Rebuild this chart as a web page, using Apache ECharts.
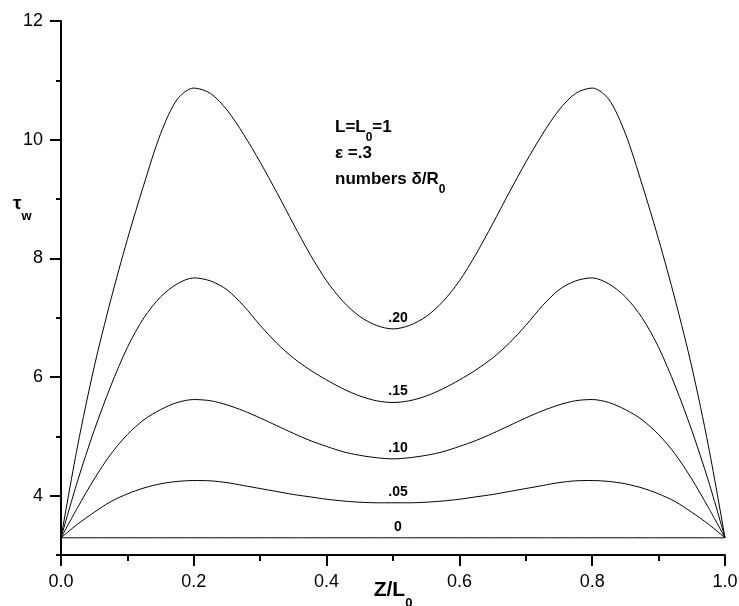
<!DOCTYPE html>
<html>
<head>
<meta charset="utf-8">
<script src="https://cdn.jsdelivr.net/npm/echarts@6/dist/echarts.min.js"></script>
<style>
  html, body { margin: 0; padding: 0; background: #fff; }
  #main { width: 739px; height: 606px; }
</style>
</head>
<body>
<div id="main"></div>
<script>
// Z/L0 positions
var zValues = [0, 0.025, 0.05, 0.075, 0.1, 0.125, 0.15, 0.175, 0.2, 0.225, 0.25,
               0.275, 0.3, 0.325, 0.35, 0.375, 0.4, 0.425, 0.45, 0.475, 0.5,
               0.525, 0.55, 0.575, 0.6, 0.625, 0.65, 0.675, 0.7, 0.725, 0.75,
               0.775, 0.8, 0.825, 0.85, 0.875, 0.9, 0.925, 0.95, 0.975, 1.0];

// tau_w for each delta/R0
var tau20 = [3.29, 4.84, 6.17, 7.3, 8.32, 9.25, 10.1, 10.68, 10.87, 10.78, 10.5,
             10.09, 9.62, 9.11, 8.58, 8.07, 7.62, 7.27, 7.02, 6.87, 6.81,
             6.87, 7.02, 7.27, 7.62, 8.07, 8.58, 9.11, 9.62, 10.09, 10.5,
             10.78, 10.87, 10.68, 10.1, 9.25, 8.32, 7.3, 6.17, 4.84, 3.29];
var tau15 = [3.29, 4.25, 5.1, 5.85, 6.5, 7.0, 7.35, 7.57, 7.67, 7.62, 7.47,
             7.2, 6.87, 6.57, 6.32, 6.12, 5.95, 5.8, 5.68, 5.6, 5.57,
             5.6, 5.68, 5.8, 5.95, 6.12, 6.32, 6.57, 6.87, 7.2, 7.47,
             7.62, 7.67, 7.57, 7.35, 7.0, 6.5, 5.85, 5.1, 4.25, 3.29];
var tau10 = [3.29, 3.8, 4.28, 4.7, 5.03, 5.28, 5.45, 5.57, 5.62, 5.6, 5.53,
             5.43, 5.31, 5.18, 5.05, 4.93, 4.83, 4.74, 4.68, 4.64, 4.62,
             4.64, 4.68, 4.74, 4.83, 4.93, 5.05, 5.18, 5.31, 5.43, 5.53,
             5.6, 5.62, 5.57, 5.45, 5.28, 5.03, 4.7, 4.28, 3.8, 3.29];
var tau05 = [3.29, 3.52, 3.72, 3.9, 4.03, 4.13, 4.2, 4.24, 4.255, 4.25, 4.22,
             4.17, 4.12, 4.07, 4.02, 3.98, 3.94, 3.91, 3.89, 3.88, 3.88,
             3.88, 3.89, 3.91, 3.94, 3.98, 4.02, 4.07, 4.12, 4.17, 4.22,
             4.25, 4.255, 4.24, 4.2, 4.13, 4.03, 3.9, 3.72, 3.52, 3.29];
var tau00 = [3.29, 3.29, 3.29, 3.29, 3.29, 3.29, 3.29, 3.29, 3.29, 3.29, 3.29,
             3.29, 3.29, 3.29, 3.29, 3.29, 3.29, 3.29, 3.29, 3.29, 3.29,
             3.29, 3.29, 3.29, 3.29, 3.29, 3.29, 3.29, 3.29, 3.29, 3.29,
             3.29, 3.29, 3.29, 3.29, 3.29, 3.29, 3.29, 3.29, 3.29, 3.29];

var curveNames = ['.20', '.15', '.10', '.05', '0'];
var yMajorTicks = [4, 6, 8, 10, 12];

var font = 'Liberation Sans';

function pairs(vals) {
    return zValues.map(function (z, i) { return [z, vals[i]]; });
}

var myChart = echarts.init(document.getElementById('main'));

var seriesList = [tau20, tau15, tau10, tau05, tau00].map(function (vals, k) {
    var mid = vals[zValues.indexOf(0.5)];
    return {
        name: curveNames[k],
        type: 'line',
        data: pairs(vals),
        smooth: 0.3,
        showSymbol: false,
        silent: true,
        lineStyle: { color: '#000', width: 1 },
        markPoint: {
            symbol: 'circle',
            symbolSize: 0,
            data: [{ coord: [0.5, mid] }],
            label: {
                show: true,
                position: 'top',
                distance: 4,
                offset: [5, 0],
                formatter: curveNames[k],
                color: '#000',
                fontFamily: font,
                fontWeight: 'bold',
                fontSize: 14
            }
        }
    };
});

var option = {
    animation: false,
    backgroundColor: '#fff',
    grid: { left: 61, right: 14, top: 21, bottom: 51, containLabel: false, outerBoundsMode: 'none' },
    xAxis: {
        type: 'value',
        min: 0,
        max: 1,
        interval: 0.2,
        name: '{b|Z/L}{s|0}',
        nameLocation: 'middle',
        nameGap: 25,
        nameMoveOverlap: false,
        nameTextStyle: {
            rich: {
                b: { fontFamily: font, fontWeight: 'bold', fontSize: 21, color: '#000',
                     lineHeight: 21, verticalAlign: 'top' },
                s: { fontFamily: font, fontWeight: 'bold', fontSize: 13, color: '#000',
                     lineHeight: 8, verticalAlign: 'top', padding: [17, 0, 0, 0] }
            }
        },
        axisLine: { lineStyle: { color: '#000', width: 2 } },
        axisTick: { length: 11, lineStyle: { color: '#000', width: 2 } },
        minorTick: { show: true, splitNumber: 2, length: 6, lineStyle: { color: '#000', width: 2 } },
        splitLine: { show: false },
        axisLabel: {
            margin: 18,
            color: '#000',
            fontFamily: font,
            fontSize: 18,
            formatter: function (v) { return v.toFixed(1); }
        }
    },
    yAxis: [{
        type: 'value',
        position: 'left',
        min: 3,
        max: 12,
        interval: 1,
        axisLine: { show: true, lineStyle: { color: '#000', width: 2 } },
        axisTick: { show: true, length: 5, lineStyle: { color: '#000', width: 2 } },
        splitLine: { show: false },
        axisLabel: {
            margin: 18,
            color: '#000',
            fontFamily: font,
            fontSize: 18,
            formatter: function (v) { return yMajorTicks.indexOf(v) >= 0 ? String(v) : ''; }
        }
    }, {
        type: 'value',
        position: 'left',
        min: 3,
        max: 12,
        interval: 1,
        axisLine: { show: false },
        axisTick: { show: true, length: 11, customValues: yMajorTicks,
                    lineStyle: { color: '#000', width: 2 } },
        axisLabel: { show: false },
        splitLine: { show: false }
    }],
    graphic: [{
        type: 'text',
        left: 13,
        top: 194,
        style: {
            text: '{t|τ}{w|w}',
            rich: {
                t: { fontFamily: font, fontWeight: 'bold', fontSize: 19, fill: '#000',
                     lineHeight: 19, verticalAlign: 'top' },
                w: { fontFamily: font, fontWeight: 'bold', fontSize: 13, fill: '#000',
                     lineHeight: 8, verticalAlign: 'top', padding: [16, 0, 0, 0] }
            }
        }
    }, {
        type: 'text',
        left: 335,
        top: 119,
        style: {
            text: '{b|L=L}{s|0}{b|=1}\n{b|ε =.3}\n{b|numbers δ/R}{s|0}',
            rich: {
                b: { fontFamily: font, fontWeight: 'bold', fontSize: 17, fill: '#000',
                     lineHeight: 26, verticalAlign: 'top' },
                s: { fontFamily: font, fontWeight: 'bold', fontSize: 12, fill: '#000',
                     lineHeight: 8, verticalAlign: 'top', padding: [13, 0, 0, 0] }
            }
        }
    }],
    series: seriesList
};

myChart.setOption(option);
</script>
</body>
</html>
